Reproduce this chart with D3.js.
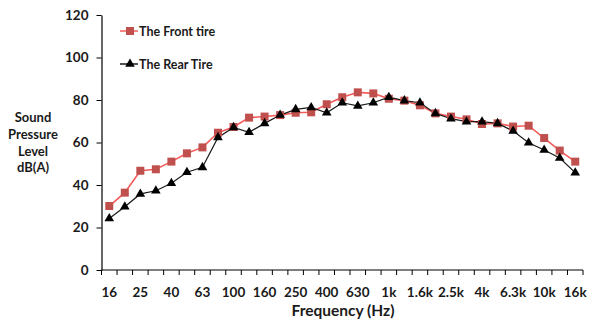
<!DOCTYPE html>
<html>
<head>
<meta charset="utf-8">
<script src="https://cdn.jsdelivr.net/npm/d3@7"></script>
<style>
  html, body { margin: 0; padding: 0; background: #fff; }
  svg { display: block; font-family: Lato, "Open Sans", sans-serif; }
</style>
</head>
<body>
<svg id="chart" width="597" height="320"></svg>
<script>
// One-third-octave band centre frequencies
const bands = ["16","20","25","31.5","40","50","63","80","100","125","160","200","250","315","400",
  "500","630","800","1k","1.25k","1.6k","2k","2.5k","3.15k","4k","5k","6.3k","8k","10k","12.5k","16k"];
// Labels printed under the axis (every second band)
const tickLabels = ["16","25","40","63","100","160","250","400","630","1k","1.6k","2.5k","4k","6.3k","10k","16k"];
const yTicks = [0, 20, 40, 60, 80, 100, 120];

// Sound pressure level, dB(A)
const frontTire = [30.1, 36.4, 46.7, 47.4, 51.0, 54.9, 57.7, 64.6, 67.3, 71.7, 72.2, 72.9, 74.0, 74.2, 78.0,
  81.3, 83.6, 83.1, 80.6, 79.7, 77.5, 73.7, 72.2, 70.9, 68.7, 69.0, 67.5, 67.9, 62.1, 56.2, 51.0];
const rearTire = [24.2, 29.8, 35.8, 37.3, 40.8, 46.0, 48.3, 62.4, 67.1, 64.8, 69.0, 72.9, 75.6, 76.5, 74.0,
  78.7, 77.2, 78.7, 81.3, 79.7, 78.7, 73.7, 71.2, 69.8, 69.8, 69.0, 65.4, 59.9, 56.5, 52.7, 45.8];

const svg = d3.select("#chart");
const plot = { left: 101.5, right: 583, top: 15, bottom: 270 };

const x = d3.scaleBand().domain(bands).range([plot.left, plot.right]);
const y = d3.scaleLinear().domain([0, 120]).range([plot.bottom, plot.top]);
const cx = d => x(d) + x.bandwidth() / 2;

// Y axis
const yAxis = svg.append("g").attr("transform", `translate(${plot.left},0)`)
  .call(d3.axisLeft(y).tickValues(yTicks).tickSize(5).tickSizeOuter(0).tickPadding(8));
yAxis.select(".domain").attr("stroke", "#000").attr("stroke-width", 1.2);
yAxis.selectAll(".tick line").attr("stroke", "#000");
yAxis.selectAll("text").attr("font-size", 13.5).attr("font-weight", "bold").attr("fill", "#1a1a1a")
  .attr("font-family", "Lato, sans-serif");

// X axis: tick marks on band boundaries, labels on every second band
const xg = svg.append("g").attr("transform", `translate(0,${plot.bottom})`);
xg.append("line").attr("x1", plot.left).attr("x2", plot.right).attr("stroke", "#000").attr("stroke-width", 1.2);
const boundaries = bands.map(b => x(b)).concat([plot.right]);
xg.selectAll("line.tk").data(boundaries).join("line").attr("class", "tk")
  .attr("x1", d => d).attr("x2", d => d).attr("y1", 0).attr("y2", 5)
  .attr("stroke", "#000");
xg.selectAll("text").data(tickLabels).join("text")
  .attr("x", d => cx(d)).attr("y", 27)
  .attr("text-anchor", "middle").attr("font-size", 13.5).attr("font-weight", "bold").attr("fill", "#1a1a1a")
  .text(d => d);

// Axis titles
svg.append("text").attr("x", 343).attr("y", 316).attr("text-anchor", "middle")
  .attr("font-size", 15.5).attr("font-weight", "bold").attr("fill", "#1a1a1a").text("Frequency (Hz)");
const yTitle = ["Sound", "Pressure", "Level", "dB(A)"];
svg.append("g").selectAll("text").data(yTitle).join("text")
  .attr("x", 33).attr("y", (d, i) => 122 + i * 16.8).attr("text-anchor", "middle")
  .attr("font-size", 13).attr("font-weight", "bold").attr("fill", "#1a1a1a").text(d => d);

// Series
const line = d3.line().x((d, i) => cx(bands[i])).y(d => y(d));
const frontLine = "#f45b5b", frontMarker = "#c0504d";

svg.append("path").datum(frontTire).attr("d", line)
  .attr("fill", "none").attr("stroke", frontLine).attr("stroke-width", 1.6);
svg.append("path").datum(rearTire).attr("d", line)
  .attr("fill", "none").attr("stroke", "#1a1a1a").attr("stroke-width", 1.2);

const sq = d3.symbol().type(d3.symbolSquare).size(64);
const tri = d3.symbol().type(d3.symbolTriangle).size(40);

svg.append("g").selectAll("path").data(frontTire).join("path")
  .attr("d", sq).attr("transform", (d, i) => `translate(${cx(bands[i])},${y(d)})`)
  .attr("fill", frontMarker);
svg.append("g").selectAll("path").data(rearTire).join("path")
  .attr("d", tri).attr("transform", (d, i) => `translate(${cx(bands[i])},${y(d)})`)
  .attr("fill", "#000");

// Legend
const legend = [
  { name: "The Front tire", color: frontLine, marker: sq, fill: frontMarker, yy: 31 },
  { name: "The Rear Tire", color: "#1a1a1a", marker: tri, fill: "#000", yy: 64 }
];
const lg = svg.append("g").selectAll("g").data(legend).join("g")
  .attr("transform", d => `translate(120,${d.yy})`);
lg.append("line").attr("x1", 0).attr("x2", 18).attr("stroke", d => d.color).attr("stroke-width", 1.5);
lg.append("path").attr("d", d => d.marker()).attr("transform", "translate(10,0)").attr("fill", d => d.fill);
lg.append("text").attr("x", 19).attr("y", 4.5).attr("font-size", 12.5).attr("font-weight", "bold")
  .attr("fill", "#1a1a1a").text(d => d.name);
</script>
</body>
</html>
